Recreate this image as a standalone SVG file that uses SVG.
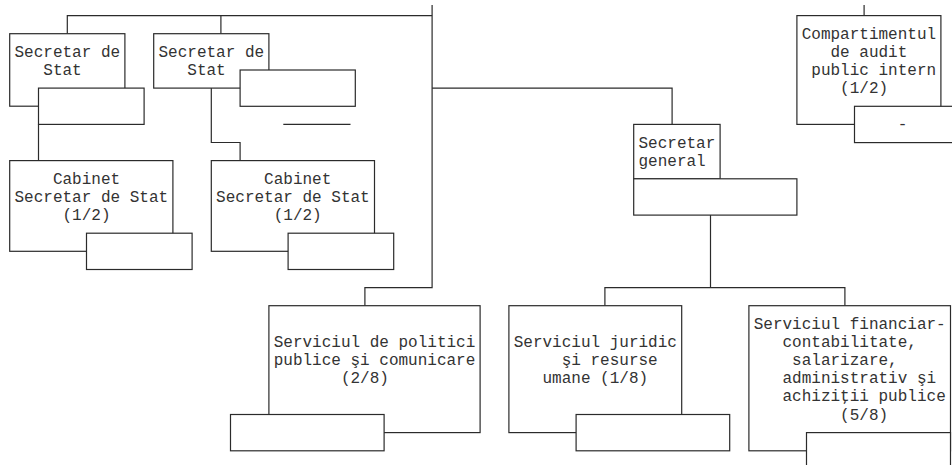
<svg xmlns="http://www.w3.org/2000/svg" width="952" height="465" viewBox="0 0 952 465">
<style>
.bx{fill:#fff;stroke:#2b2b2b;stroke-width:1.2}
.ln{fill:none;stroke:#2b2b2b;stroke-width:1.2}
text{font-family:"Liberation Mono","Courier New",monospace;font-size:16px;fill:#333}
</style>
<rect width="952" height="465" fill="#fff"/>
<g id="connectors" class="ln">
<polyline points="67.3,33.7 67.3,15.6 432.1,15.6"/>
<line x1="220.9" y1="15.6" x2="220.9" y2="33.7"/>
<polyline points="432.1,5 432.1,287.6 364.9,287.6 364.9,305.7"/>
<polyline points="432.1,88.1 672.1,88.1 672.1,124.4"/>
<line x1="38.5" y1="124.4" x2="38.5" y2="160.6"/>
<polyline points="211.3,88.1 211.3,142.5 240.1,142.5 240.1,160.6"/>
<line x1="710.5" y1="215" x2="710.5" y2="287.6"/>
<polyline points="604.9,305.7 604.9,287.6 844.9,287.6 844.9,305.7"/>
<line x1="864.1" y1="5" x2="864.1" y2="15.6"/>
<line x1="283.3" y1="124.4" x2="350.5" y2="124.4"/>
</g>
<g id="secretar-stat-1">
<rect class="bx" x="9.7" y="33.7" width="115.2" height="72.5"/>
<rect class="bx" x="38.5" y="88.1" width="105.6" height="36.3"/>
<text x="14.5" y="56.9">Secretar de</text>
<text x="43.3" y="75">Stat</text>
</g>
<g id="secretar-stat-2">
<rect class="bx" x="153.7" y="33.7" width="115.2" height="54.4"/>
<rect class="bx" x="240.1" y="70" width="115.2" height="36.3"/>
<text x="158.5" y="56.9">Secretar de</text>
<text x="187.3" y="75">Stat</text>
</g>
<g id="cabinet-1">
<rect class="bx" x="9.7" y="160.6" width="163.2" height="90.7"/>
<rect class="bx" x="86.5" y="233.2" width="105.6" height="36.3"/>
<text x="52.9" y="183.8">Cabinet</text>
<text x="14.5" y="201.9">Secretar de Stat</text>
<text x="62.5" y="220">(1/2)</text>
</g>
<g id="cabinet-2">
<rect class="bx" x="211.3" y="160.6" width="163.2" height="90.7"/>
<rect class="bx" x="288.1" y="233.2" width="105.6" height="36.3"/>
<text x="264.1" y="183.8">Cabinet</text>
<text x="216.1" y="201.9">Secretar de Stat</text>
<text x="273.7" y="220">(1/2)</text>
</g>
<g id="secretar-general">
<rect class="bx" x="633.7" y="124.4" width="86.4" height="54.4"/>
<rect class="bx" x="633.7" y="178.8" width="163.2" height="36.3"/>
<text x="638.5" y="147.5">Secretar</text>
<text x="638.5" y="165.6">general</text>
</g>
<g id="audit-intern">
<rect class="bx" x="796.9" y="15.6" width="144" height="108.8"/>
<rect class="bx" x="854.5" y="106.3" width="115.2" height="36.3"/>
<text x="801.7" y="38.7">Compartimentul</text>
<text x="830.5" y="56.9">de audit</text>
<text x="811.3" y="75">public intern</text>
<text x="840.1" y="93.1">(1/2)</text>
<text x="897.7" y="129.4">-</text>
</g>
<g id="politici-publice">
<rect class="bx" x="268.9" y="305.7" width="211.2" height="126.9"/>
<rect class="bx" x="230.5" y="414.5" width="153.6" height="36.3"/>
<text x="273.7" y="346.9">Serviciul de politici</text>
<text x="273.7" y="365.1">publice şi comunicare</text>
<text x="340.9" y="383.2">(2/8)</text>
</g>
<g id="juridic-resurse-umane">
<rect class="bx" x="508.9" y="305.7" width="172.8" height="126.9"/>
<rect class="bx" x="576.1" y="414.5" width="153.6" height="36.3"/>
<text x="513.7" y="346.9">Serviciul juridic</text>
<text x="561.7" y="365.1">şi resurse</text>
<text x="542.5" y="383.2">umane (1/8)</text>
</g>
<g id="financiar-contabilitate">
<rect class="bx" x="748.9" y="305.7" width="201.6" height="145.1"/>
<rect class="bx" x="806.5" y="432.6" width="144" height="36.3"/>
<text x="753.7" y="328.8">Serviciul financiar-</text>
<text x="782.5" y="346.9">contabilitate,</text>
<text x="792.1" y="365.1">salarizare,</text>
<text x="782.5" y="383.2">administrativ şi</text>
<text x="782.5" y="401.3">achiziţii publice</text>
<text x="840.1" y="419.5">(5/8)</text>
</g>
</svg>
